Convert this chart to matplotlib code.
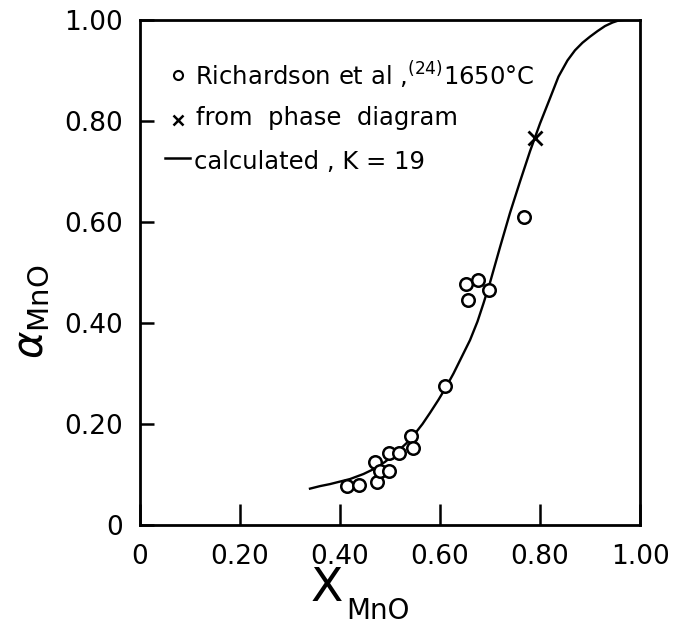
import matplotlib
matplotlib.use("Agg")
import matplotlib.pyplot as plt

plt.rcParams['font.family'] = ['DejaVu Sans']

# Richardson et al. data (circles)
rich_x = [0.413, 0.437, 0.469, 0.473, 0.479, 0.497, 0.497, 0.518, 0.541, 0.545,
          0.609, 0.651, 0.655, 0.675, 0.697, 0.767]
rich_y = [0.077, 0.079, 0.124, 0.086, 0.107, 0.106, 0.142, 0.143, 0.176, 0.153,
          0.275, 0.477, 0.446, 0.485, 0.465, 0.609]

# from phase diagram (cross)
phase_x = [0.789]
phase_y = [0.766]

# calculated curve, K = 19
calc_x = [0.34, 0.36, 0.38, 0.40, 0.42, 0.447, 0.47, 0.49, 0.51, 0.533, 0.55, 0.565,
          0.58, 0.597, 0.612, 0.627, 0.643, 0.66, 0.675, 0.687, 0.70, 0.72, 0.74,
          0.76, 0.78, 0.80, 0.82, 0.837, 0.855, 0.87, 0.885, 0.90, 0.915, 0.93,
          0.945, 0.957, 0.97, 0.985, 1.0]
calc_y = [0.072, 0.077, 0.081, 0.086, 0.091, 0.101, 0.112, 0.125, 0.141, 0.162, 0.181,
          0.20, 0.222, 0.248, 0.273, 0.30, 0.332, 0.366, 0.403, 0.439, 0.48, 0.55,
          0.618, 0.68, 0.74, 0.795, 0.845, 0.888, 0.92, 0.94, 0.955, 0.967, 0.978,
          0.988, 0.995, 0.999, 1.0, 1.0, 1.0]

x_ticks = [0, 0.2, 0.4, 0.6, 0.8, 1.0]
x_labels = ['0', '0.20', '0.40', '0.60', '0.80', '1.00']
y_ticks = [0, 0.2, 0.4, 0.6, 0.8, 1.0]
y_labels = ['0', '0.20', '0.40', '0.60', '0.80', '1.00']

W, H = 693, 627
fig = plt.figure(figsize=(W / 100, H / 100), dpi=100)
ax = fig.add_axes([140 / W, (H - 525) / H, 500 / W, 505 / H])

ax.plot(calc_x, calc_y, color='black', lw=1.7, solid_joinstyle='round', zorder=2)
ax.plot(rich_x, rich_y, linestyle='none', marker='o', ms=9, mfc='white',
        mec='black', mew=1.8, zorder=3)
ax.plot(phase_x, phase_y, linestyle='none', marker='x', ms=10, mec='black',
        mew=2.0, zorder=3)

ax.set_xlim(0, 1.0)
ax.set_ylim(0, 1.0)
ax.set_xticks(x_ticks)
ax.set_xticklabels(x_labels)
ax.set_yticks(y_ticks)
ax.set_yticklabels(y_labels)
ax.tick_params(axis='x', direction='in', length=15, width=1.8, pad=14, labelsize=19)
ax.tick_params(axis='y', direction='in', length=10, width=1.8, pad=12, labelsize=19)
for s in ax.spines.values():
    s.set_linewidth(2.0)

# legend drawn as text
tf = ax.transAxes
def px(xp, yp):
    return ((xp - 140) / 500, (525 - yp) / 505)

ax.plot(*px(178, 75), transform=tf, marker='o', ms=6.5, mfc='white', mec='black',
        mew=1.5, clip_on=False)
ax.text(*px(195, 75), r'Richardson et al ,${}^{(24)}$1650°C', transform=tf,
        fontsize=17.5, va='center', ha='left')
ax.plot(*px(178, 120), transform=tf, marker='x', ms=7, mec='black', mew=1.8,
        clip_on=False)
ax.text(*px(196, 118), 'from  phase  diagram', transform=tf, fontsize=17.5,
        va='center', ha='left')
x0, y0 = px(165, 158)
x1, _ = px(190, 158)
ax.plot([x0, x1], [y0, y0], transform=tf, color='black', lw=1.8)
ax.text(*px(194, 162), 'calculated , K = 19', transform=tf, fontsize=17.5,
        va='center', ha='left')

# axis labels
fig.text(327 / W, 1 - 566 / H, 'X', fontsize=34, ha='center', va='top')
fig.text(346 / W, 1 - 619 / H, 'MnO', fontsize=20, ha='left', va='baseline')
ax.set_ylabel(r'$\alpha_{\mathrm{MnO}}$', fontsize=30)
ax.yaxis.set_label_coords((52 - 140) / 500, (525 - 312) / 505)

fig.savefig('out.png', dpi=100)
